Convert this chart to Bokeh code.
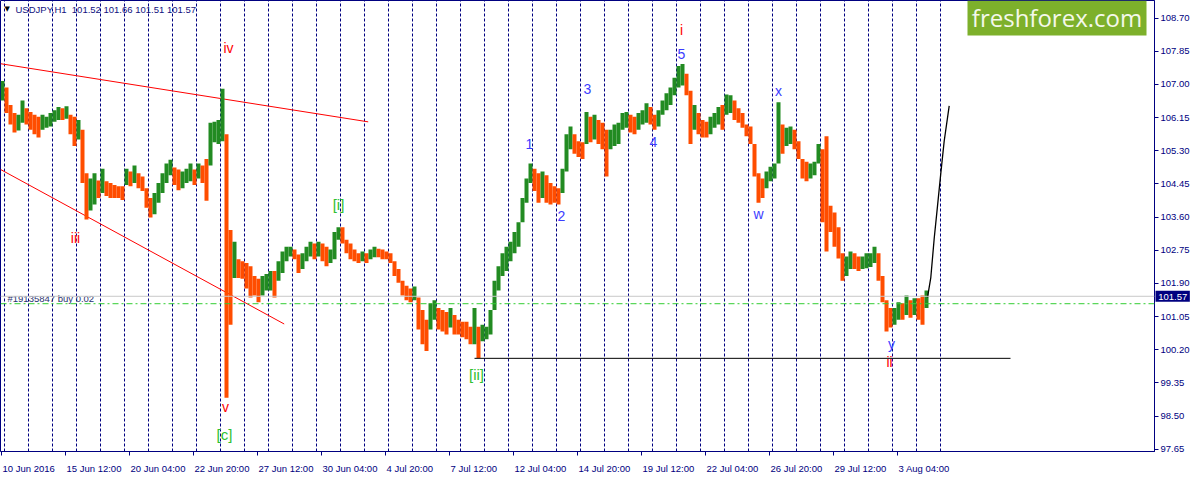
from bokeh.plotting import figure
from bokeh.models import Range1d, FixedTicker, CustomJSTickFormatter, Label, Span
from bokeh.core.properties import value
from bokeh.embed import file_html
from bokeh.resources import INLINE

# ---------------- data (USDJPY H1, aggregated into 4-hour bins from 10 Jun 2016 20:00) ----------------
high = [107.09, 106.92, 106.47, 106.27, 106.22, 106.59, 106.39, 106.29, 106.22, 106.17,
        106.22, 106.17, 106.27, 106.34, 106.42, 106.39, 106.44, 106.22, 106.17, 106.09,
        105.84, 104.72, 104.59, 104.72, 104.54, 104.84, 104.52, 104.47, 104.42, 104.39,
        104.39, 104.84, 104.77, 104.92, 104.72, 104.64, 104.34, 104.09, 104.22, 104.47,
        104.72, 104.97, 105.07, 104.87, 104.82, 104.77, 104.84, 104.97, 104.82, 104.97,
        104.92, 105.09, 106.02, 106.04, 106.09, 106.89, 105.72, 103.27, 102.97, 102.52,
        102.47, 102.42, 102.34, 102.09, 102.02, 102.09, 102.14, 102.22, 102.22, 102.47,
        102.72, 102.84, 102.84, 102.77, 102.64, 102.67, 102.84, 102.97, 102.92, 102.97,
        102.92, 102.84, 102.77, 103.22, 103.34, 103.34, 103.02, 102.92, 102.77, 102.67,
        102.72, 102.67, 102.77, 102.84, 102.79, 102.77, 102.72, 102.67, 102.47, 102.27,
        101.97, 101.84, 101.77, 101.82, 101.54, 101.22, 100.97, 101.39, 101.47, 101.27,
        101.22, 101.17, 101.27, 101.09, 100.97, 100.92, 100.92, 100.79, 101.27, 100.79,
        100.84, 100.79, 101.22, 101.97, 102.34, 102.67, 102.84, 102.97, 103.22, 103.47,
        104.09, 104.59, 104.97, 104.84, 104.72, 104.77, 104.67, 104.47, 104.39, 104.34,
        104.84, 105.72, 105.92, 105.72, 105.54, 105.52, 106.29, 106.17, 106.22, 106.09,
        106.02, 105.84, 105.84, 105.97, 106.02, 106.27, 106.29, 106.22, 106.17, 106.27,
        106.34, 106.52, 106.42, 106.22, 106.34, 106.59, 106.77, 106.92, 107.17, 107.47,
        107.52, 107.27, 106.84, 106.47, 106.27, 106.09, 106.04, 106.17, 106.27, 106.42,
        106.47, 106.74, 106.72, 106.59, 106.39, 106.27, 105.97, 105.92, 105.47, 104.72,
        104.59, 104.77, 104.89, 104.97, 106.54, 105.97, 105.89, 105.92, 105.84, 105.54,
        105.09, 105.02, 104.97, 105.02, 105.47, 105.34, 105.67, 103.89, 103.72, 103.34,
        102.67, 102.59, 102.72, 102.67, 102.59, 102.59, 102.67, 102.67, 102.84, 102.67,
        102.09, 101.47, 101.27, 101.27, 101.42, 101.39, 101.59, 101.47, 101.52, 101.52,
        101.59, 101.72]
low = [106.59, 106.27, 105.97, 105.77, 105.82, 106.02, 105.97, 105.84, 105.72, 105.64,
       105.84, 105.89, 105.92, 106.04, 106.09, 106.09, 106.12, 105.72, 105.42, 105.59,
       104.47, 103.54, 103.77, 103.92, 104.09, 104.22, 104.14, 104.09, 104.09, 104.09,
       104.04, 104.42, 104.39, 104.47, 104.34, 104.27, 103.84, 103.59, 103.67, 103.97,
       104.22, 104.47, 104.67, 104.42, 104.29, 104.34, 104.47, 104.52, 104.42, 104.59,
       104.47, 104.02, 104.92, 105.52, 105.47, 105.54, 98.97, 100.84, 102.04, 102.04,
       102.02, 101.77, 101.54, 101.59, 101.42, 101.59, 101.72, 101.72, 101.54, 101.97,
       102.17, 102.47, 102.59, 102.52, 102.17, 102.27, 102.47, 102.59, 102.52, 102.59,
       102.47, 102.34, 102.42, 102.52, 103.02, 102.92, 102.67, 102.52, 102.47, 102.42,
       102.47, 102.42, 102.52, 102.57, 102.57, 102.52, 102.52, 102.42, 102.09, 101.92,
       101.59, 101.47, 101.42, 101.47, 100.72, 100.34, 100.17, 100.72, 100.97, 100.72,
       100.67, 100.59, 100.77, 100.59, 100.59, 100.52, 100.47, 100.34, 100.34, 99.99,
       100.42, 100.47, 100.59, 101.22, 101.72, 102.09, 102.22, 102.47, 102.67, 102.84,
       103.47, 103.97, 104.47, 104.27, 103.97, 104.09, 103.97, 103.92, 103.97, 103.92,
       104.22, 104.77, 105.34, 105.22, 105.14, 105.09, 105.47, 105.52, 105.59, 105.47,
       105.34, 104.64, 105.34, 105.42, 105.47, 105.84, 105.89, 105.77, 105.72, 105.84,
       105.97, 106.02, 105.97, 105.84, 105.92, 106.22, 106.34, 106.47, 106.72, 106.92,
       106.97, 106.72, 105.47, 105.84, 105.72, 105.64, 105.64, 105.72, 105.89, 105.97,
       105.84, 106.22, 106.27, 106.09, 106.02, 105.89, 105.67, 105.47, 104.64, 103.97,
       104.09, 104.34, 104.52, 104.59, 104.97, 105.22, 105.42, 105.47, 105.34, 105.09,
       104.59, 104.52, 104.59, 104.67, 104.97, 103.47, 102.72, 103.22, 102.84, 102.54,
       101.97, 102.09, 102.27, 102.27, 102.22, 102.27, 102.29, 102.32, 102.42, 101.97,
       101.42, 100.67, 100.77, 100.84, 100.97, 100.97, 101.09, 101.02, 101.09, 100.97,
       100.84, 101.27]

x_labels = ["10 Jun 2016", "15 Jun 12:00", "20 Jun 04:00", "22 Jun 20:00", "27 Jun 12:00",
            "30 Jun 04:00", "4 Jul 20:00", "7 Jul 12:00", "12 Jul 04:00", "14 Jul 20:00",
            "19 Jul 12:00", "22 Jul 04:00", "26 Jul 20:00", "29 Jul 12:00", "3 Aug 04:00"]
y_ticks = [97.65, 98.50, 99.35, 100.20, 101.05, 101.90, 102.75, 103.60, 104.45,
           105.30, 106.15, 107.00, 107.85, 108.70]

ohlc_title = "USDJPY,H1 \u00a0101.52 101.66 101.51 101.57"
last_price = 101.57
order_price = 101.38
order_text = "#19135847 buy 0.02"
support_level = 99.98
support_hours = [474, 1010]
upper_trend_hours = [0, 367.7]
upper_trend_price = [107.53, 106.04]
lower_trend_hours = [0, 283.7]
lower_trend_price = [104.82, 100.86]
proj_hours = [927, 930.3, 933.7, 937.0, 940.3, 943.7, 948.7]
proj_price = [101.54, 102.05, 103.05, 103.88, 104.72, 105.55, 106.45]

red_text = ["iv", "iii", "v", "i", "ii"]
red_hours = [228, 75, 225, 681, 889]
red_price = [107.93, 103.07, 98.74, 108.39, 99.89]
blue_text = ["1", "2", "3", "4", "5", "w", "x", "y"]
blue_hours = [529, 561, 587, 653, 681, 758, 778, 891]
blue_price = [105.47, 103.62, 106.89, 105.52, 107.79, 103.69, 106.82, 100.34]
green_text = ["[i]", "[ii]", "[c]"]
green_hours = [338, 476, 224]
green_price = [103.93, 99.57, 98.02]

# ---------------- layout ----------------
FRAME_W, FRAME_H = 1154, 451
Y0, Y1 = 97.5925, 109.15
PPU = FRAME_H / (Y1 - Y0)
NAVY = "#000080"
FONT = "Liberation Sans"
BIN = 4

p = figure(frame_width=FRAME_W, frame_height=FRAME_H,
           x_range=Range1d(0, FRAME_W), y_range=Range1d(Y0, Y1),
           output_backend="svg", toolbar_location=None, y_axis_location="right",
           min_border_left=0, min_border_top=0, min_border_right=0, min_border_bottom=0)
p.background_fill_color = "white"
p.border_fill_color = "white"
p.outline_line_color = NAVY
p.outline_line_width = 1
p.grid.visible = False

# day separators (every 24 hourly bars)
sep = [4 + 24 * j for j in range(40)]
p.segment(x0=sep, y0=[Y0] * len(sep), x1=sep, y1=[Y1] * len(sep),
          line_color=NAVY, line_width=1, line_dash="3 2")

# price lines
p.add_layout(Span(location=last_price, dimension="width", line_color="#c8c8c8", line_width=1))
p.add_layout(Span(location=order_price, dimension="width", line_color="#32cd32",
                  line_width=1, line_dash="6 3 2 3"))

# trend lines
p.line(upper_trend_hours, upper_trend_price, line_color="#ff0000", line_width=1)
p.line(lower_trend_hours, lower_trend_price, line_color="#ff0000", line_width=1)

# bars
xs = [BIN * k + BIN / 2 for k in range(len(high))]
mids = [(h + l) / 2 for h, l in zip(high, low)]
cols = []
for k, m in enumerate(mids):
    prev = mids[k - 1] if k > 0 else m
    cols.append("#228b22" if m >= prev else "#ff4d00")
p.vbar(x=xs, top=high, bottom=low, width=BIN, fill_color=cols, line_color=None)

# support / projection
p.line(support_hours, [support_level, support_level], line_color="black", line_width=1)
p.line(proj_hours, proj_price, line_color="black", line_width=1.3)

# wave labels
p.text(x=red_hours, y=red_price, text=red_text, text_color="#ff0000",
       text_font=value(FONT), text_font_size="14px", text_align="center", text_baseline="middle")
p.text(x=blue_hours, y=blue_price, text=blue_text, text_color="#3c3cff",
       text_font=value(FONT), text_font_size="14px", text_align="center", text_baseline="middle")
p.text(x=green_hours, y=green_price, text=green_text, text_color="#30c030",
       text_font=value(FONT), text_font_size="15px", text_align="center", text_baseline="middle")

# header / order text
p.text(x=[4], y=[Y1 - 8.5 / PPU], text=["\u25bc"], text_color="black",
       text_font=value("DejaVu Sans"), text_font_size="7px", text_align="left", text_baseline="middle")
p.text(x=[15], y=[Y1 - 8.5 / PPU], text=[ohlc_title], text_color="#101080",
       text_font=value(FONT), text_font_size="9.5px", text_align="left", text_baseline="middle")
p.text(x=[7], y=[order_price + 5 / PPU], text=[order_text], text_color="#283070",
       text_font=value(FONT), text_font_size="9.5px", text_align="left", text_baseline="middle")

# logo
p.quad(left=[FRAME_W - 187], right=[FRAME_W - 8], top=[Y1], bottom=[Y1 - 35 / PPU],
       fill_color="#7db02b", line_color=None)
p.text(x=[FRAME_W - 97.5], y=[Y1 - 17 / PPU], text=["freshforex.com"], text_color="#f4f8ea",
       text_font=value("Open Sans"), text_font_size="24px", text_align="center", text_baseline="middle")

# current price box (in a side panel so it is not clipped to the frame)
p.add_layout(Label(x=FRAME_W, y=last_price, text="\u00a0101.57\u00a0", x_offset=1,
                   text_font=FONT, text_font_size="9.5px", text_color="white",
                   background_fill_color=NAVY, text_baseline="middle", text_align="left"), "right")

# x axis: minor ticks mark the time, labels start just right of them
CW = {c: 0.556 for c in "0123456789"}
CW.update({" ": 0.278, ":": 0.278, "J": 0.5, "u": 0.556, "n": 0.556, "l": 0.222,
           "A": 0.667, "g": 0.556})


def text_w(s, size=9.5):
    return sum(CW.get(c, 0.556) for c in s) * size


tick_pos = [0.5 + 64 * j for j in range(len(x_labels))]
centres = [t + 1.5 + text_w(s) / 2 for t, s in zip(tick_pos, x_labels)]
xa = p.xaxis[0]
xa.ticker = FixedTicker(ticks=centres, minor_ticks=tick_pos)
xa.formatter = CustomJSTickFormatter(args=dict(c=centres, labels=x_labels), code="""
    for (let i = 0; i < c.length; i++) { if (Math.abs(c[i] - tick) < 0.01) return labels[i]; }
    return "";
""")
xa.major_tick_out = 0
xa.major_tick_in = 0
xa.major_tick_line_color = None
xa.minor_tick_out = 4
xa.minor_tick_in = 0
xa.minor_tick_line_color = NAVY
xa.axis_line_color = NAVY
xa.major_label_standoff = 7
xa.major_label_text_font = FONT
xa.major_label_text_font_size = "9.5px"
xa.major_label_text_color = NAVY

ya = p.yaxis[0]
ya.ticker = FixedTicker(ticks=y_ticks)
ya.formatter = CustomJSTickFormatter(code="return tick.toFixed(2);")
ya.major_tick_out = 4
ya.major_tick_in = 0
ya.major_tick_line_color = NAVY
ya.minor_tick_line_color = None
ya.axis_line_color = NAVY
ya.major_label_standoff = 2
ya.major_label_text_font = FONT
ya.major_label_text_font_size = "9.5px"
ya.major_label_text_color = NAVY

open("out.html", "w").write(file_html(p, INLINE))
